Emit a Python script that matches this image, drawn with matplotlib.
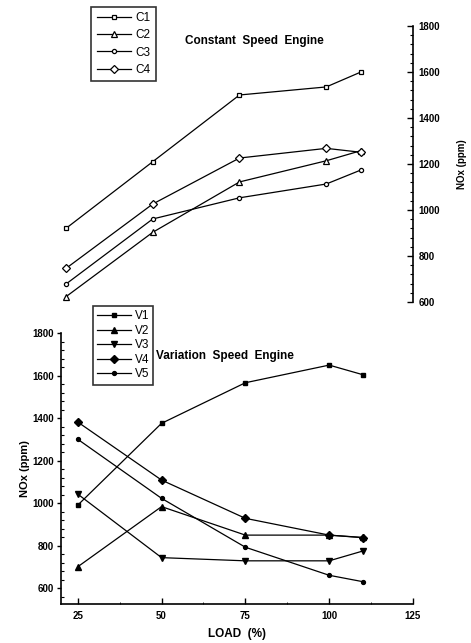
import matplotlib
matplotlib.use("Agg")
import matplotlib.pyplot as plt
from matplotlib.ticker import MultipleLocator

plt.rcParams['font.family'] = ['Liberation Sans', 'DejaVu Sans']

load = [25, 50, 75, 100, 110]

# Constant speed engine, NOx (ppm)
c1 = [920, 1210, 1500, 1535, 1600]
c2 = [623, 903, 1122, 1214, 1258]
c3 = [678, 961, 1053, 1113, 1174]
c4 = [746, 1026, 1226, 1268, 1251]

# Variation speed engine, NOx (ppm)
v1 = [990, 1375, 1566, 1649, 1604]
v2 = [700, 983, 849, 849, 838]
v3 = [1042, 743, 728, 728, 774]
v4 = [1381, 1108, 928, 849, 837]
v5 = [1300, 1022, 792, 660, 630]

fig = plt.figure(figsize=(4.71, 6.43), dpi=100)

# ---- top panel: constant speed, axis on the right ----
ax1 = fig.add_axes([0.1032, 0.5303, 0.7737, 0.4293])
kw = dict(color='black', lw=0.9, mfc='white', mec='black', mew=0.9)
ax1.plot(load, c1, marker='s', ms=3.2, label='C1', **kw)
ax1.plot(load, c2, marker='^', ms=4.2, label='C2', **kw)
ax1.plot(load, c3, marker='o', ms=3.0, label='C3', **kw)
ax1.plot(load, c4, marker='D', ms=3.8, label='C4', **kw)
ax1.set_xlim(20, 125)
ax1.set_ylim(600, 1800)
for s in ['top', 'left', 'bottom']:
    ax1.spines[s].set_visible(False)
ax1.spines['right'].set_linewidth(1.2)
ax1.xaxis.set_visible(False)
ax1.yaxis.tick_right()
ax1.yaxis.set_label_position('right')
ax1.yaxis.set_major_locator(MultipleLocator(200))
ax1.yaxis.set_minor_locator(MultipleLocator(40))
ax1.tick_params(axis='y', which='major', direction='in', length=4, width=1, labelsize=7, pad=4)
ax1.tick_params(axis='y', which='minor', direction='in', length=2, width=0.8)
for t in ax1.get_yticklabels():
    t.set_fontweight('bold')
ax1.set_ylabel('NOx (ppm)', fontsize=7, fontweight='bold', labelpad=12)
ax1.text(0.375, 0.945, 'Constant  Speed  Engine', transform=ax1.transAxes,
         fontsize=8.5, fontweight='bold', ha='left', va='center')
leg1 = ax1.legend(loc='upper left', bbox_to_anchor=(0.117, 1.07), fontsize=8.5,
                  frameon=True, fancybox=False, edgecolor='black',
                  handlelength=2.9, handletextpad=0.4, labelspacing=0.45,
                  borderpad=0.45, borderaxespad=0)
leg1.get_frame().set_linewidth(1.2)

# ---- bottom panel: variation speed ----
ax2 = fig.add_axes([0.1295, 0.0607, 0.7473, 0.4214])
kw2 = dict(color='black', lw=0.9, mfc='black', mec='black')
ax2.plot(load, v1, marker='s', ms=2.6, label='V1', **kw2)
ax2.plot(load, v2, marker='^', ms=4.2, label='V2', **kw2)
ax2.plot(load, v3, marker='v', ms=4.2, label='V3', **kw2)
ax2.plot(load, v4, marker='D', ms=3.8, label='V4', **kw2)
ax2.plot(load, v5, marker='o', ms=2.8, label='V5', **kw2)
ax2.set_xlim(20, 125)
ax2.set_ylim(525, 1800)
ax2.spines['top'].set_visible(False)
ax2.spines['right'].set_visible(False)
ax2.spines['left'].set_linewidth(1.2)
ax2.spines['bottom'].set_linewidth(1.2)
ax2.spines['left'].set_bounds(525, 1800)
ax2.set_xticks([25, 50, 75, 100, 125])
ax2.xaxis.set_minor_locator(MultipleLocator(12.5))
ax2.yaxis.set_major_locator(MultipleLocator(200))
ax2.yaxis.set_minor_locator(MultipleLocator(40))
ax2.tick_params(axis='y', which='major', direction='out', length=3, width=1, labelsize=7, pad=2)
ax2.tick_params(axis='y', which='minor', direction='in', length=2, width=0.8)
ax2.tick_params(axis='x', which='major', direction='in', length=4, width=1, labelsize=7, pad=5)
ax2.tick_params(axis='x', which='minor', direction='in', length=1.5, width=0.6)
for t in ax2.get_yticklabels() + ax2.get_xticklabels():
    t.set_fontweight('bold')
ax2.set_ylabel('NOx (ppm)', fontsize=8, fontweight='bold', labelpad=2)
ax2.set_xlabel('LOAD  (%)', fontsize=8.5, fontweight='bold', labelpad=5)
ax2.text(0.27, 0.915, 'Variation  Speed  Engine', transform=ax2.transAxes,
         fontsize=8.5, fontweight='bold', ha='left', va='center')
leg2 = ax2.legend(loc='upper left', bbox_to_anchor=(0.09, 1.1), fontsize=8.5,
                  frameon=True, fancybox=False, edgecolor='black',
                  handlelength=2.9, handletextpad=0.3, labelspacing=0.22,
                  borderpad=0.35, borderaxespad=0)
leg2.get_frame().set_linewidth(1.2)

fig.savefig('out.png', dpi=100)
